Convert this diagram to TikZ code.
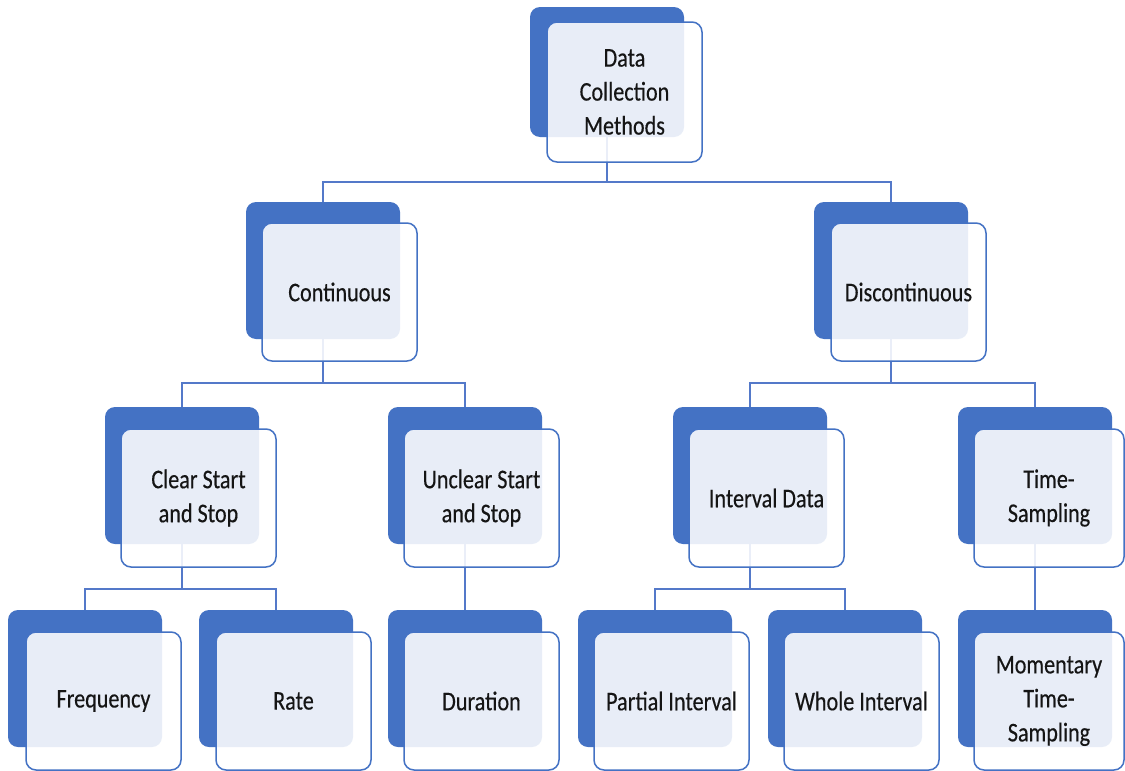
\documentclass[tikz,border=0pt]{standalone}
\usepackage{fontspec}
\setmainfont{Carlito}[FakeStretch=0.82,FakeBold=0.35]
\definecolor{boxblue}{HTML}{4472C4}
\definecolor{lineblue}{HTML}{5479C9}
\definecolor{txt}{HTML}{151515}
\begin{document}
\begin{tikzpicture}[x=1pt,y=-1pt,
 backbox/.style={fill=boxblue, rounded corners=10pt, minimum width=154pt, minimum height=137pt, inner sep=0pt, outer sep=0pt, anchor=north west},
 frontbox/.style={fill=white, fill opacity=0.88, text opacity=1, draw=boxblue, line width=1.5pt, rounded corners=10pt, minimum width=155pt, minimum height=138pt, inner sep=0pt, outer sep=0pt, anchor=north west, align=center, text=txt, font=\fontsize{27}{34}\selectfont},
 conn/.style={draw=lineblue, line width=2.5pt}]
\useasboundingbox[fill=white] (0,0) rectangle (1125,771);
% back boxes
\node[backbox, minimum height=130pt] (top-b) at (530,7) {};
\node[backbox] (cont-b) at (246,202) {};
\node[backbox] (disc-b) at (814,202) {};
\node[backbox] (clear-b) at (105,407) {};
\node[backbox] (unclear-b) at (388,407) {};
\node[backbox] (interval-b) at (673,407) {};
\node[backbox] (timesamp-b) at (958,407) {};
\node[backbox] (freq-b) at (8,610) {};
\node[backbox] (rate-b) at (199,610) {};
\node[backbox] (dur-b) at (388,610) {};
\node[backbox] (partial-b) at (578,610) {};
\node[backbox] (whole-b) at (768,610) {};
\node[backbox] (moment-b) at (958,610) {};
% bus coordinates
\coordinate (bus1) at (0,182);
\coordinate (bus2) at (0,383);
\coordinate (bus3) at (0,589);
% connectors
\draw[conn] (top-b.south) -- (top-b.south |- bus1) -| (cont-b.north);
\draw[conn] (top-b.south |- bus1) -| (disc-b.north);
\draw[conn] (cont-b.south) -- (cont-b.south |- bus2) -| (clear-b.north);
\draw[conn] (cont-b.south |- bus2) -| (unclear-b.north);
\draw[conn] (disc-b.south) -- (disc-b.south |- bus2) -| (interval-b.north);
\draw[conn] (disc-b.south |- bus2) -| (timesamp-b.north);
\draw[conn] (clear-b.south) -- (clear-b.south |- bus3) -| (freq-b.north);
\draw[conn] (clear-b.south |- bus3) -| (rate-b.north);
\draw[conn] (unclear-b.south) -- (dur-b.north);
\draw[conn] (interval-b.south) -- (interval-b.south |- bus3) -| (partial-b.north);
\draw[conn] (interval-b.south |- bus3) -| (whole-b.north);
\draw[conn] (timesamp-b.south) -- (moment-b.north);
% front boxes
\node[frontbox, minimum height=140pt] (top) at (547,22) {Data\\Collection\\Methods};
\node[frontbox] (cont) at (262,223) {Continuous};
\node[frontbox] (disc) at (831,223) {Discontinuous};
\node[frontbox] (clear) at (121,429) {Clear Start\\and Stop};
\node[frontbox] (unclear) at (404,429) {Unclear Start\\and Stop};
\node[frontbox] (interval) at (689,429) {Interval Data};
\node[frontbox, minimum width=150pt] (timesamp) at (974,429) {Time-\\Sampling};
\node[frontbox] (freq) at (26,632) {Frequency};
\node[frontbox] (rate) at (216,632) {Rate};
\node[frontbox] (dur) at (404,632) {Duration};
\node[frontbox] (partial) at (594,632) {Partial Interval};
\node[frontbox] (whole) at (784,632) {Whole Interval};
\node[frontbox, minimum width=150pt] (moment) at (974,632) {Momentary\\Time-\\Sampling};
\end{tikzpicture}
\end{document}
